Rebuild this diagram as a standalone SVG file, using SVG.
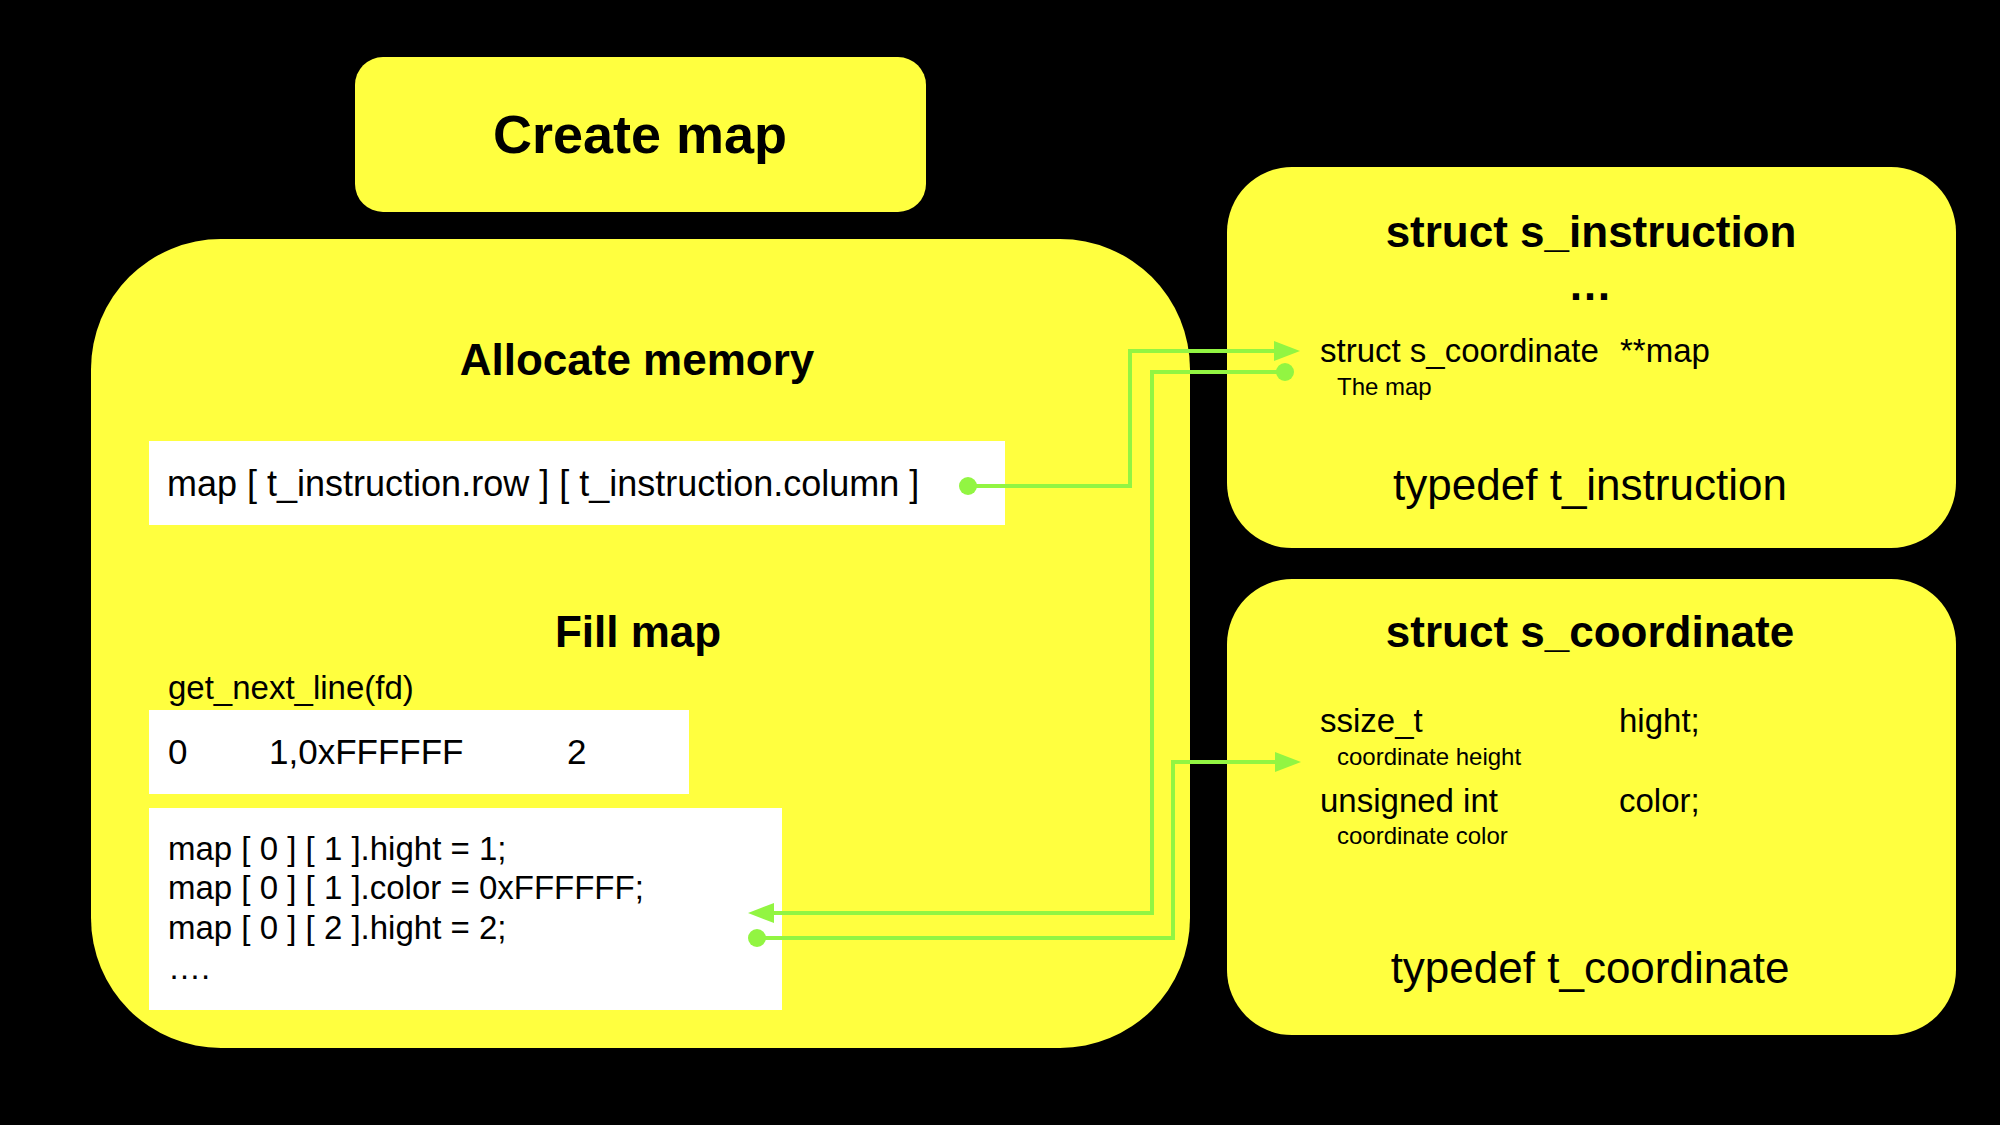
<svg xmlns="http://www.w3.org/2000/svg" width="2000" height="1125" viewBox="0 0 2000 1125">
<style>
  text { font-family: "Liberation Sans", Arial, Helvetica, sans-serif; fill: #000; }
  .yel { fill: #ffff3f; }
  .wht { fill: #ffffff; }
  .h { font-weight: bold; font-size: 44px; text-anchor: middle; }
  .t { font-size: 44px; text-anchor: middle; }
  .m { font-size: 33px; }
  .s { font-size: 24px; }
  .conn { fill: none; stroke: #92f542; stroke-width: 4; marker-start: url(#dot); marker-end: url(#arrow); }
</style>
<defs>
  <marker id="arrow" markerUnits="userSpaceOnUse" markerWidth="27" markerHeight="20" refX="0" refY="10" orient="auto" overflow="visible">
    <path d="M0,0 L26,10 L0,20 z" fill="#92f542"/>
  </marker>
  <marker id="dot" markerUnits="userSpaceOnUse" markerWidth="20" markerHeight="20" refX="10" refY="10" orient="auto" overflow="visible">
    <circle cx="10" cy="10" r="9" fill="#92f542"/>
  </marker>
</defs>
<rect x="0" y="0" width="2000" height="1125" fill="#000"/>

<g id="create-map">
  <rect class="yel" x="355" y="57" width="571" height="155" rx="28"/>
  <text x="640" y="153" style="font-weight:bold;font-size:54px;text-anchor:middle">Create map</text>
</g>

<g id="create-map-body">
  <rect class="yel" x="91" y="239" width="1099" height="809" rx="130"/>
  <text class="h" x="637" y="375">Allocate memory</text>
  <text class="h" x="638" y="647">Fill map</text>
  <text class="m" x="168" y="699">get_next_line(fd)</text>
</g>

<g id="alloc-box">
  <rect class="wht" x="149" y="441" width="856" height="84"/>
  <text x="167" y="496" style="font-size:36px">map [ t_instruction.row ] [ t_instruction.column ]</text>
</g>

<g id="line-box">
  <rect class="wht" x="149" y="710" width="540" height="84"/>
  <text x="168" y="764" style="font-size:35px">0</text>
  <text x="269" y="764" style="font-size:35px">1,0xFFFFFF</text>
  <text x="567" y="764" style="font-size:35px">2</text>
</g>

<g id="fill-box">
  <rect class="wht" x="149" y="808" width="633" height="202"/>
  <text class="m" x="168" y="860">map [ 0 ] [ 1 ].hight = 1;</text>
  <text class="m" x="168" y="899">map [ 0 ] [ 1 ].color = 0xFFFFFF;</text>
  <text class="m" x="168" y="939">map [ 0 ] [ 2 ].hight = 2;</text>
  <text class="m" x="168" y="979">….</text>
</g>

<g id="s-instruction">
  <rect class="yel" x="1227" y="167" width="729" height="381" rx="65"/>
  <text class="h" x="1591" y="247">struct s_instruction</text>
  <text class="h" x="1590" y="300">…</text>
  <text class="m" x="1320" y="362">struct s_coordinate</text>
  <text class="m" x="1620" y="362">**map</text>
  <text class="s" x="1337" y="395">The map</text>
  <text class="t" x="1590" y="500">typedef t_instruction</text>
</g>

<g id="s-coordinate">
  <rect class="yel" x="1227" y="579" width="729" height="456" rx="65"/>
  <text class="h" x="1590" y="647">struct s_coordinate</text>
  <text class="m" x="1320" y="732">ssize_t</text>
  <text class="m" x="1619" y="732">hight;</text>
  <text class="s" x="1337" y="765">coordinate height</text>
  <text class="m" x="1320" y="812">unsigned int</text>
  <text class="m" x="1619" y="812">color;</text>
  <text class="s" x="1337" y="844">coordinate color</text>
  <text class="t" x="1590" y="983">typedef t_coordinate</text>
</g>

<g id="connectors">
  <path class="conn" d="M968,486 H1130 V351 H1274"/>
  <path class="conn" d="M1285,372 H1152 V913 H774"/>
  <path class="conn" d="M757,938 H1173 V762 H1275"/>
</g>
</svg>
